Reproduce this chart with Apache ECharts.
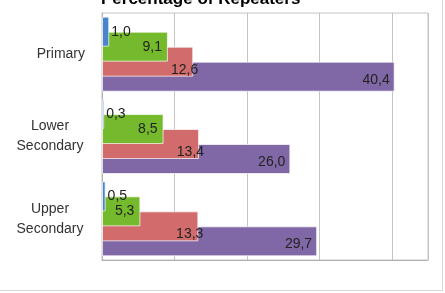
<!DOCTYPE html>
<html lang="en">
<head>
    <meta charset="UTF-8">
    <title>Percentage of Repeaters</title>
    <script src="https://cdn.jsdelivr.net/npm/echarts@6/dist/echarts.min.js"></script>
</head>
<body style="margin:0;background:#fff;">
<div id="chart" style="width: 445px;height:293px;"></div>
<script>
    let categories = ['Primary', 'Lower\nSecondary', 'Upper\nSecondary']
    let seriesNames = ['A', 'B', 'C', 'D']
    let blueValues = [1.0, 0.3, 0.5]
    let greenValues = [9.1, 8.5, 5.3]
    let redValues = [12.6, 13.4, 13.3]
    let purpleValues = [40.4, 26.0, 29.7]
    let colors = ['#4a84cc', '#74ba2c', '#d26b6b', '#8067a6']

    let chart = echarts.init(document.getElementById('chart'));

    // Excel style decimal comma
    function comma(p) {
        return p.value.toFixed(1).replace('.', ',');
    }

    function makeSeries(i, data, label) {
        return {
            name: seriesNames[i],
            type: 'bar',
            data: data,
            barWidth: 30,
            barGap: '-50%',
            barCategoryGap: '8%',
            z: 10 - i,
            itemStyle: {
                color: colors[i],
                borderColor: 'rgba(255,255,255,0.7)',
                borderWidth: 1
            },
            label: Object.assign({
                show: true,
                formatter: comma,
                color: '#222',
                fontSize: 14,
                fontFamily: 'Liberation Sans'
            }, label)
        };
    }

    let option = {
        animation: false,
        title: {
            text: 'Percentage of Repeaters',
            left: 96,
            top: -14,
            textStyle: {fontSize: 17, fontWeight: 'bold', color: '#000', fontFamily: 'Liberation Sans'}
        },
        grid: {
            left: 102,
            right: 17,
            top: 13,
            bottom: 33,
            show: true,
            borderColor: '#c4c4c4',
            borderWidth: 1
        },
        xAxis: {
            type: 'value',
            min: 0,
            max: 45,
            interval: 10,
            axisLabel: {show: false},
            axisTick: {show: false},
            axisLine: {show: true, lineStyle: {color: '#b0b0b0'}},
            splitLine: {lineStyle: {color: '#c4c4c4'}}
        },
        yAxis: {
            type: 'category',
            inverse: true,
            data: categories,
            axisLine: {lineStyle: {color: '#b0b0b0'}},
            axisTick: {length: 5, lineStyle: {color: '#b0b0b0'}},
            axisLabel: {
                margin: 17,
                color: '#333',
                fontSize: 14,
                fontFamily: 'Liberation Sans',
                lineHeight: 20,
                formatter: function (v) {
                    if (v.indexOf('\n') < 0) return v;
                    return v.split('\n').map(s => '{c|' + s + '}').join('\n');
                },
                rich: {
                    c: {width: 70, align: 'center', fontSize: 14, lineHeight: 20, color: '#333', fontFamily: 'Liberation Sans'}
                }
            }
        },
        graphic: [{
            type: 'rect',
            shape: {x: -5, y: -5, width: 447.5, height: 295.5},
            style: {fill: 'none', stroke: '#d6d6d6', lineWidth: 1},
            silent: true
        }],
        series: [
            makeSeries(0, blueValues, {position: 'right', distance: 2}),
            makeSeries(1, greenValues, {position: 'insideRight', distance: 6}),
            makeSeries(2, redValues, {position: 'insideRight', offset: [10, 8]}),
            makeSeries(3, purpleValues, {position: 'insideRight', distance: 5, offset: [0, 3]})
        ]
    };
    chart.setOption(option);
</script>
</body>
</html>
